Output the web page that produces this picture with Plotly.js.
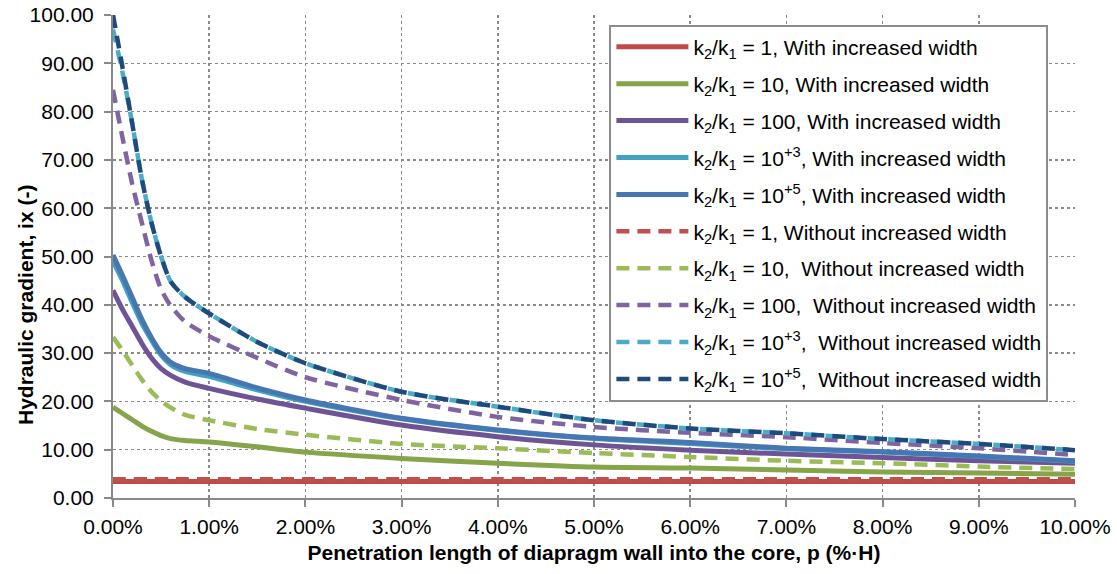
<!DOCTYPE html>
<html>
<head>
<meta charset="utf-8">
<script src="https://cdn.plot.ly/plotly-3.0.1.min.js"></script>
<style>html,body{margin:0;padding:0;background:#fff;}#chart{width:1117px;height:574px;}</style>
</head>
<body>
<div id="chart"></div>
<script>
// Penetration length p (%·H)
var penetration = [0, 0.1, 0.2, 0.3, 0.4, 0.5, 0.6, 0.75, 1, 1.5, 2, 3, 4, 5, 6, 7, 8, 9, 10];

// With increased width
var k1_with   = [3.4, 3.4, 3.4, 3.4, 3.4, 3.4, 3.4, 3.4, 3.4, 3.4, 3.4, 3.4, 3.4, 3.4, 3.4, 3.4, 3.4, 3.4, 3.4];
var k10_with  = [18.8, 17.5, 16.2, 14.9, 13.8, 12.9, 12.3, 11.9, 11.6, 10.6, 9.5, 8.2, 7.2, 6.4, 6.2, 5.8, 5.4, 5.2, 4.9];
var k100_with = [43, 39, 35.5, 32, 29, 26.8, 25.4, 24, 22.7, 20.5, 18.6, 15.1, 12.7, 11, 9.9, 9.1, 8.4, 7.7, 7.2];
var k1e3_with = [49, 45, 40.5, 36.2, 32.7, 29.6, 27.6, 26.2, 25.2, 22.4, 20, 16.4, 14, 12.3, 11.3, 10.2, 9.5, 8.6, 7.6];
var k1e5_with = [50.3, 46, 41.5, 37, 33.2, 30.1, 28.1, 26.8, 25.8, 22.8, 20.3, 16.5, 14.1, 12.4, 11.5, 10.3, 9.6, 8.7, 7.7];

// Without increased width
var k1_without   = [3.9, 3.9, 3.9, 3.9, 3.9, 3.9, 3.9, 3.9, 3.9, 3.9, 3.9, 3.9, 3.9, 3.9, 3.9, 3.9, 3.9, 3.9, 3.9];
var k10_without  = [33.3, 30.5, 27.5, 24.5, 22, 20.1, 18.7, 17.2, 16.1, 14.3, 13.1, 11.2, 10.3, 9.3, 8.5, 7.7, 7.2, 6.5, 6.0];
var k100_without = [84.5, 74.5, 65, 57, 49.2, 43.2, 39.8, 36.5, 33.5, 29, 25, 20.3, 16.8, 14.7, 13.5, 12.6, 11.4, 10.3, 8.9];
var k1e3_without = [97, 88, 77.5, 66, 57, 50, 44.8, 41.6, 38.2, 32.3, 27.9, 22, 18.9, 16.1, 14.4, 13.4, 12.2, 11.2, 9.9];
var k1e5_without = [100, 89, 77.5, 66, 57, 50, 44.8, 41.6, 38.2, 32.3, 27.9, 22, 18.9, 16.1, 14.4, 13.4, 12.2, 11.2, 9.9];

var names = [
  "k<sub>2</sub>/k<sub>1</sub> = 1, With increased width",
  "k<sub>2</sub>/k<sub>1</sub> = 10, With increased width",
  "k<sub>2</sub>/k<sub>1</sub> = 100, With increased width",
  "k<sub>2</sub>/k<sub>1</sub> = 10<sup>+3</sup>, With increased width",
  "k<sub>2</sub>/k<sub>1</sub> = 10<sup>+5</sup>, With increased width",
  "k<sub>2</sub>/k<sub>1</sub> = 1, Without increased width",
  "k<sub>2</sub>/k<sub>1</sub> = 10,&nbsp; Without increased width",
  "k<sub>2</sub>/k<sub>1</sub> = 100,&nbsp; Without increased width",
  "k<sub>2</sub>/k<sub>1</sub> = 10<sup>+3</sup>,&nbsp; Without increased width",
  "k<sub>2</sub>/k<sub>1</sub> = 10<sup>+5</sup>,&nbsp; Without increased width"
];
var series = [k1_with, k10_with, k100_with, k1e3_with, k1e5_with,
              k1_without, k10_without, k100_without, k1e3_without, k1e5_without];
var colors = ["#BE4B48", "#86A44A", "#6E5494", "#3FA2BE", "#4677B2",
              "#C0504D", "#9BBB59", "#8064A2", "#4BACC6", "#1F4A7E"];

var traces = series.map(function (ys, i) {
  var dashed = i >= 5;
  return {
    x: penetration, y: ys, type: "scatter", mode: "lines",
    name: names[i], legendgroup: "g" + i,
    line: {color: colors[i], width: dashed ? 4.5 : 5, dash: dashed ? "13px,8px" : "solid",
           shape: "spline", smoothing: 0.7}
  };
});

var layout = {
  width: 1117, height: 574,
  margin: {l: 113, r: 42, t: 15, b: 76},
  paper_bgcolor: "#fff", plot_bgcolor: "#fff",
  font: {family: "Liberation Sans, Arial, sans-serif", size: 21, color: "#000"},
  showlegend: true,
  legend: {
    x: 0.516, y: 0.98, xanchor: "left", yanchor: "top",
    bgcolor: "#fff", bordercolor: "#8c8c8c", borderwidth: 2,
    font: {size: 21, color: "#000"},
    traceorder: "grouped", tracegroupgap: 6.6, itemwidth: 72
  },
  xaxis: {
    range: [0, 10], tick0: 0, dtick: 1, tickformat: ".2f", ticksuffix: "%",
    showline: true, linecolor: "#898989", linewidth: 2,
    ticks: "outside", ticklen: 7, tickwidth: 2, tickcolor: "#898989",
    ticklabelstandoff: 2,
    showgrid: true, gridcolor: "#8a8a8a", griddash: "dot", gridwidth: 1.5,
    zeroline: false, fixedrange: true,
    title: {text: "<b>Penetration length of diapragm wall into the core, p (%·H)</b>", font: {size: 21}, standoff: 8}
  },
  yaxis: {
    range: [0, 100], tick0: 0, dtick: 10, tickformat: ".2f",
    showline: true, linecolor: "#898989", linewidth: 2,
    ticks: "outside", ticklen: 7, tickwidth: 2, tickcolor: "#898989",
    ticklabelstandoff: 6,
    showgrid: true, gridcolor: "#8a8a8a", griddash: "dot", gridwidth: 1.5,
    zeroline: false, fixedrange: true
  },
  annotations: [{
    text: "<b>Hydraulic gradient, ix (-)</b>",
    xref: "paper", yref: "paper",
    x: (25 - 113) / 962, y: (498 - 305) / 483,
    xanchor: "center", yanchor: "middle",
    textangle: -90, showarrow: false,
    font: {size: 21, color: "#000"}
  }]
};

Plotly.newPlot("chart", traces, layout, {staticPlot: true, displayModeBar: false});
</script>
</body>
</html>
